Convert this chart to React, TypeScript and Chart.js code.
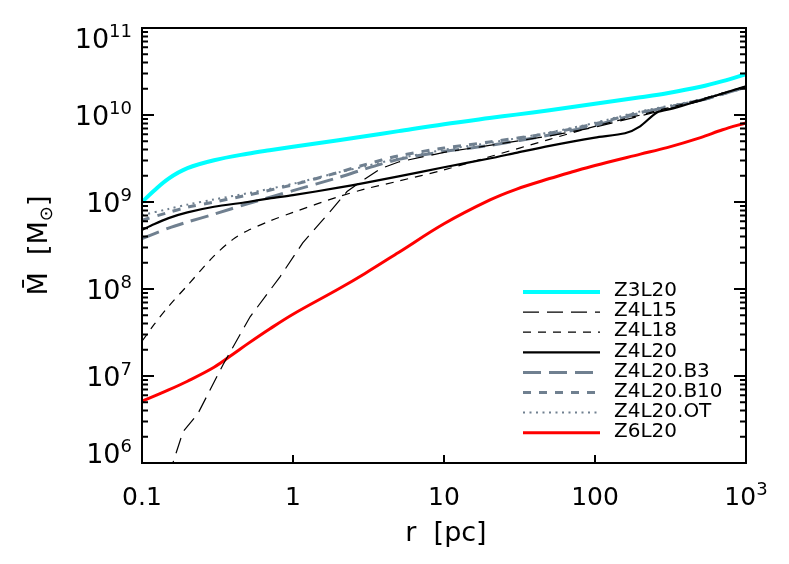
import React, { useEffect, useRef } from "react";
import { Chart, registerables } from "chart.js";

Chart.register(...registerables);

// ---- data (r in pc, enclosed mass in solar masses) ----
const rZ3L20 = [0.1, 0.12, 0.15, 0.2, 0.3, 0.5, 0.7, 1, 2, 3, 5, 10, 20, 30, 50, 100, 200, 300, 500, 700, 1000];
const mZ3L20 = [1.0e9, 1.35e9, 1.86e9, 2.45e9, 3.02e9, 3.59e9, 3.94e9, 4.32e9, 5.13e9, 5.69e9, 6.53e9, 7.85e9, 9.23e9, 1.01e10, 1.135e10, 1.35e10, 1.60e10, 1.78e10, 2.11e10, 2.45e10, 2.95e10];

const rZ4L15 = [0.15, 0.187, 0.235, 0.344, 0.52, 0.82, 1.16, 1.76, 2.28, 2.91, 3.77, 5, 10, 20, 50, 100, 200, 500, 1000];
const mZ4L15 = [7.08e5, 2.29e6, 3.72e6, 1.35e7, 4.79e7, 1.38e8, 3.39e8, 7.76e8, 1.32e9, 1.78e9, 2.40e9, 2.88e9, 3.72e9, 4.47e9, 5.75e9, 7.24e9, 9.77e9, 1.45e10, 2.14e10];

const rZ4L18 = [0.1, 0.12, 0.15, 0.2, 0.3, 0.4, 0.5, 0.7, 1, 2, 3, 5, 10, 20, 50, 100, 200, 300, 500, 1000];
const mZ4L18 = [2.51e7, 3.89e7, 6.31e7, 1.10e8, 2.40e8, 3.72e8, 4.68e8, 6.03e8, 7.59e8, 1.15e9, 1.41e9, 1.74e9, 2.34e9, 3.31e9, 5.25e9, 7.41e9, 1.00e10, 1.20e10, 1.51e10, 2.14e10];

const rZ4L20 = [0.1, 0.12, 0.15, 0.2, 0.3, 0.5, 0.7, 1, 2, 3, 5, 10, 20, 30, 50, 100, 158, 199, 257, 329, 500, 1000];
const mZ4L20 = [4.79e8, 5.56e8, 6.53e8, 7.59e8, 8.81e8, 1.00e9, 1.10e9, 1.20e9, 1.46e9, 1.66e9, 1.97e9, 2.51e9, 3.16e9, 3.67e9, 4.42e9, 5.50e9, 6.17e9, 7.41e9, 1.07e10, 1.19e10, 1.48e10, 2.14e10];

const rGray = [0.1, 0.15, 0.2, 0.3, 0.5, 1, 2, 3, 5, 10, 20, 50, 100, 200, 500, 1000];
const mZ4L20B3 = [3.80e8, 5.01e8, 5.89e8, 7.24e8, 9.55e8, 1.35e9, 1.91e9, 2.40e9, 3.09e9, 3.80e9, 4.47e9, 5.89e9, 7.59e9, 1.05e10, 1.48e10, 2.09e10];
const mZ4L20B10 = [6.17e8, 7.59e8, 8.71e8, 1.00e9, 1.20e9, 1.58e9, 2.19e9, 2.69e9, 3.39e9, 4.17e9, 4.90e9, 6.17e9, 7.94e9, 1.07e10, 1.48e10, 2.09e10];
const mZ4L20OT = [7.08e8, 8.32e8, 9.33e8, 1.07e9, 1.26e9, 1.62e9, 2.19e9, 2.57e9, 3.16e9, 3.98e9, 4.79e9, 6.31e9, 8.13e9, 1.10e10, 1.51e10, 2.14e10];

const rZ6L20 = [0.1, 0.15, 0.2, 0.3, 0.4, 0.5, 0.7, 1, 2, 3, 5, 10, 20, 30, 50, 70, 100, 200, 300, 500, 700, 1000];
const mZ6L20 = [5.13e6, 6.92e6, 8.71e6, 1.26e7, 1.78e7, 2.34e7, 3.47e7, 5.13e7, 1.0e8, 1.51e8, 2.63e8, 5.62e8, 1.05e9, 1.40e9, 1.86e9, 2.21e9, 2.63e9, 3.55e9, 4.22e9, 5.50e9, 6.76e9, 8.13e9];

// tick labels
const xTickValues = [0.1, 1, 10, 100, 1000];
const xTickBase = ["0.1", "1", "10", "100", "10"];
const xTickExp = ["", "", "", "", "3"];
const yTickValues = [1e6, 1e7, 1e8, 1e9, 1e10, 1e11];
const yTickExp = ["6", "7", "8", "9", "10", "11"];

const FONT = "'DejaVu Sans', sans-serif";

const pts = (r: number[], m: number[]) => r.map((x, i) => ({ x, y: m[i] }));

const idlAxes = {
  id: "idlAxes",
  afterDatasetsDraw(chart: any) {
    const { ctx, chartArea } = chart;
    const { left, right, top, bottom } = chartArea;
    const xs = chart.scales.x;
    const ys = chart.scales.y;
    ctx.save();
    ctx.strokeStyle = "#000";
    ctx.fillStyle = "#000";
    // frame
    ctx.lineWidth = 2;
    ctx.strokeRect(left, top, right - left, bottom - top);
    // y ticks (both sides)
    ctx.lineWidth = 2;
    yTickValues.forEach((v, i) => {
      const y = ys.getPixelForValue(v);
      ctx.beginPath();
      ctx.moveTo(left, y); ctx.lineTo(left + 12, y);
      ctx.moveTo(right, y); ctx.lineTo(right - 12, y);
      ctx.stroke();
      if (i < yTickValues.length - 1) {
        for (let k = 2; k <= 9; k++) {
          const ym = ys.getPixelForValue(v * k);
          ctx.beginPath();
          ctx.moveTo(left, ym); ctx.lineTo(left + 6, ym);
          ctx.moveTo(right, ym); ctx.lineTo(right - 6, ym);
          ctx.stroke();
        }
      }
    });
    // x ticks (bottom, majors only)
    xTickValues.forEach((v) => {
      const x = xs.getPixelForValue(v);
      ctx.beginPath();
      ctx.moveTo(x, bottom); ctx.lineTo(x, bottom - 8);
      ctx.stroke();
    });
    // y labels
    ctx.textBaseline = "alphabetic";
    ctx.textAlign = "left";
    const bigY = 27, smallY = 18;
    const digitH = 0.729 * bigY;
    yTickValues.forEach((v, i) => {
      const y = ys.getPixelForValue(v);
      let base = y + digitH / 2;
      if (base - digitH < top) base = top + digitH;
      if (base > bottom) base = bottom;
      ctx.font = `${smallY}px ${FONT}`;
      const we = ctx.measureText(yTickExp[i]).width;
      ctx.font = `${bigY}px ${FONT}`;
      const wb = ctx.measureText("10").width;
      const xr = left - 10;
      ctx.fillText("10", xr - we - wb, base);
      ctx.font = `${smallY}px ${FONT}`;
      ctx.fillText(yTickExp[i], xr - we, base - 11);
    });
    // x labels
    const bigX = 25, smallX = 18;
    xTickValues.forEach((v, i) => {
      const x = xs.getPixelForValue(v);
      ctx.font = `${bigX}px ${FONT}`;
      const wb = ctx.measureText(xTickBase[i]).width;
      ctx.font = `${smallX}px ${FONT}`;
      const we = xTickExp[i] ? ctx.measureText(xTickExp[i]).width : 0;
      const x0 = x - (wb + we) / 2;
      ctx.font = `${bigX}px ${FONT}`;
      ctx.fillText(xTickBase[i], x0, 505);
      if (xTickExp[i]) {
        ctx.font = `${smallX}px ${FONT}`;
        ctx.fillText(xTickExp[i], x0 + wb, 495);
      }
    });
    // x title
    ctx.font = `27px ${FONT}`;
    ctx.textAlign = "center";
    ctx.fillText("r  [pc]", (left + right) / 2 + 2, 541);
    // y title (rotated)
    ctx.save();
    ctx.translate(47, (top + bottom) / 2);
    ctx.rotate(-Math.PI / 2);
    ctx.textAlign = "left";
    const p1 = "M\u0304  [M";
    const p2 = "\u2299";
    const p3 = "]";
    ctx.font = `27px ${FONT}`;
    const w1 = ctx.measureText(p1).width;
    const w3 = ctx.measureText(p3).width;
    ctx.font = `18px ${FONT}`;
    const w2 = ctx.measureText(p2).width;
    let tx = -(w1 + w2 + w3) / 2;
    ctx.font = `27px ${FONT}`;
    ctx.fillText(p1, tx, 0);
    tx += w1;
    ctx.font = `18px ${FONT}`;
    ctx.fillText(p2, tx, 5);
    tx += w2;
    ctx.font = `27px ${FONT}`;
    ctx.fillText(p3, tx, 0);
    ctx.restore();
    // legend
    ctx.textAlign = "left";
    ctx.textBaseline = "middle";
    ctx.font = `20px ${FONT}`;
    chart.data.datasets.forEach((ds: any, i: number) => {
      const y = 292 + 20.1 * i;
      ctx.save();
      ctx.strokeStyle = ds.borderColor;
      ctx.lineWidth = ds.borderWidth;
      ctx.setLineDash(ds.borderDash || []);
      ctx.lineCap = "butt";
      ctx.beginPath();
      ctx.moveTo(523, y);
      ctx.lineTo(600, y);
      ctx.stroke();
      ctx.restore();
      ctx.fillStyle = "#000";
      ctx.fillText(ds.label, 614, y - 1);
    });
    ctx.restore();
  },
};

export default function App() {
  const ref = useRef<HTMLCanvasElement | null>(null);
  useEffect(() => {
    if (!ref.current) return;
    const gray = "rgb(112,128,144)";
    const chart = new Chart(ref.current, {
      type: "line",
      data: {
        datasets: [
          { label: "Z3L20", data: pts(rZ3L20, mZ3L20), borderColor: "rgb(0,255,255)", borderWidth: 4, tension: 0.35 },
          { label: "Z4L15", data: pts(rZ4L15, mZ4L15), borderColor: "#000", borderWidth: 1.2, borderDash: [16, 8], tension: 0 },
          { label: "Z4L18", data: pts(rZ4L18, mZ4L18), borderColor: "#000", borderWidth: 1.2, borderDash: [8, 7], tension: 0.3 },
          { label: "Z4L20", data: pts(rZ4L20, mZ4L20), borderColor: "#000", borderWidth: 2.2, tension: 0.25 },
          { label: "Z4L20.B3", data: pts(rGray, mZ4L20B3), borderColor: gray, borderWidth: 3, borderDash: [18, 8], tension: 0.3 },
          { label: "Z4L20.B10", data: pts(rGray, mZ4L20B10), borderColor: gray, borderWidth: 3, borderDash: [8, 8], tension: 0.3 },
          { label: "Z4L20.OT", data: pts(rGray, mZ4L20OT), borderColor: gray, borderWidth: 2, borderDash: [2, 4.5], tension: 0.3 },
          { label: "Z6L20", data: pts(rZ6L20, mZ6L20), borderColor: "rgb(255,0,0)", borderWidth: 3, tension: 0.35 },
        ] as any,
      },
      options: {
        animation: false,
        responsive: false,
        events: [],
        layout: { padding: { left: 142, right: 43, top: 28, bottom: 101 } },
        elements: { point: { radius: 0 } },
        plugins: { legend: { display: false }, tooltip: { enabled: false } },
        scales: {
          x: { type: "logarithmic", min: 0.1, max: 1000, display: false },
          y: { type: "logarithmic", min: 1e6, max: 1e11, display: false },
        },
      },
      plugins: [idlAxes],
    });
    return () => chart.destroy();
  }, []);
  return (
    <div style={{ position: "absolute", left: 0, top: 0, width: 789, height: 564, background: "#fff" }}>
      <canvas ref={ref} width={789} height={564} />
    </div>
  );
}
